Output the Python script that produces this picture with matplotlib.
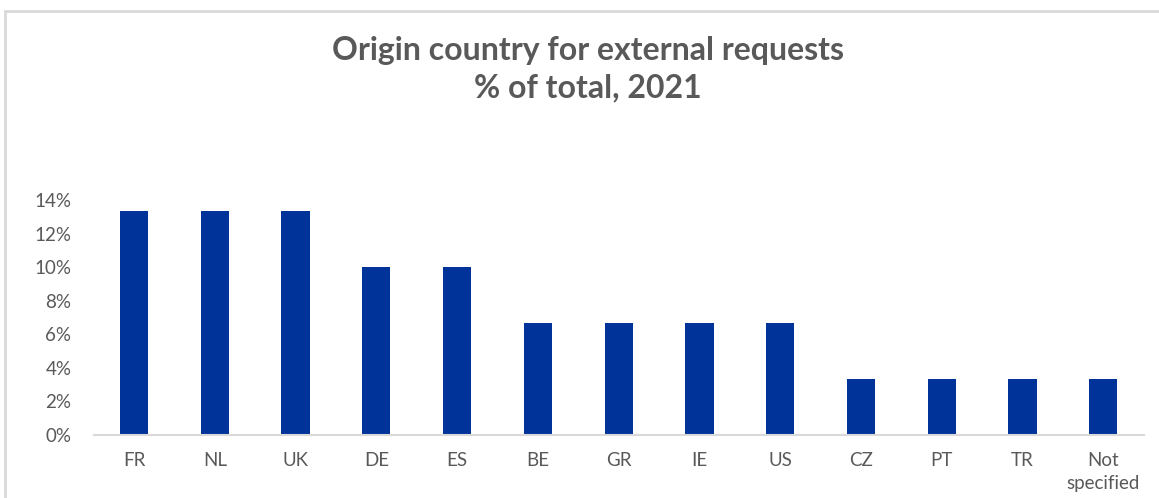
import matplotlib.pyplot as plt
from matplotlib.patches import Rectangle
from matplotlib.ticker import PercentFormatter

# share of external requests by origin country, 2021
countries = ["FR", "NL", "UK", "DE", "ES", "BE", "GR", "IE", "US", "CZ", "PT", "TR", "Not\nspecified"]
requests = [4, 4, 4, 3, 3, 2, 2, 2, 2, 1, 1, 1, 1]
total = sum(requests)
share = [r / total for r in requests]

grey = "#595959"
blue = "#003399"

plt.rcParams['font.family'] = ['Lato', 'DejaVu Sans']

fig = plt.figure(figsize=(11.59, 4.98), dpi=100)
ax = fig.add_axes([0.0808, 0.1265, 0.906, 0.4719])

x = range(len(countries))
ax.bar(x, share, width=0.35, color=blue, zorder=2)

ax.set_xlim(-0.5, len(countries) - 0.5)
ax.set_ylim(0, 0.14)
ax.set_yticks([0, 0.02, 0.04, 0.06, 0.08, 0.10, 0.12, 0.14])
ax.yaxis.set_major_formatter(PercentFormatter(1.0, decimals=0))
ax.set_xticks(list(x))
ax.set_xticklabels(countries, linespacing=1.45)

for s in ["top", "right", "left"]:
    ax.spines[s].set_visible(False)
ax.spines["bottom"].set_color("#d9d9d9")
ax.spines["bottom"].set_linewidth(1.5)

ax.tick_params(axis="both", length=0, colors=grey, labelsize=13.5)
ax.tick_params(axis="x", pad=12)
ax.tick_params(axis="y", pad=16)

fig.text(0.507, 0.8614, "Origin country for external requests\n% of total, 2021",
         ha="center", va="center", fontsize=23, fontweight="bold",
         color=grey, linespacing=1.32)

# chart frame, running off the right and bottom edges
fig.patches.append(Rectangle((0.0045, -0.05), 1.2, 1.027,
                             transform=fig.transFigure, fill=False,
                             edgecolor="#d9d9d9", linewidth=2))

fig.savefig("out.png", dpi=100)
